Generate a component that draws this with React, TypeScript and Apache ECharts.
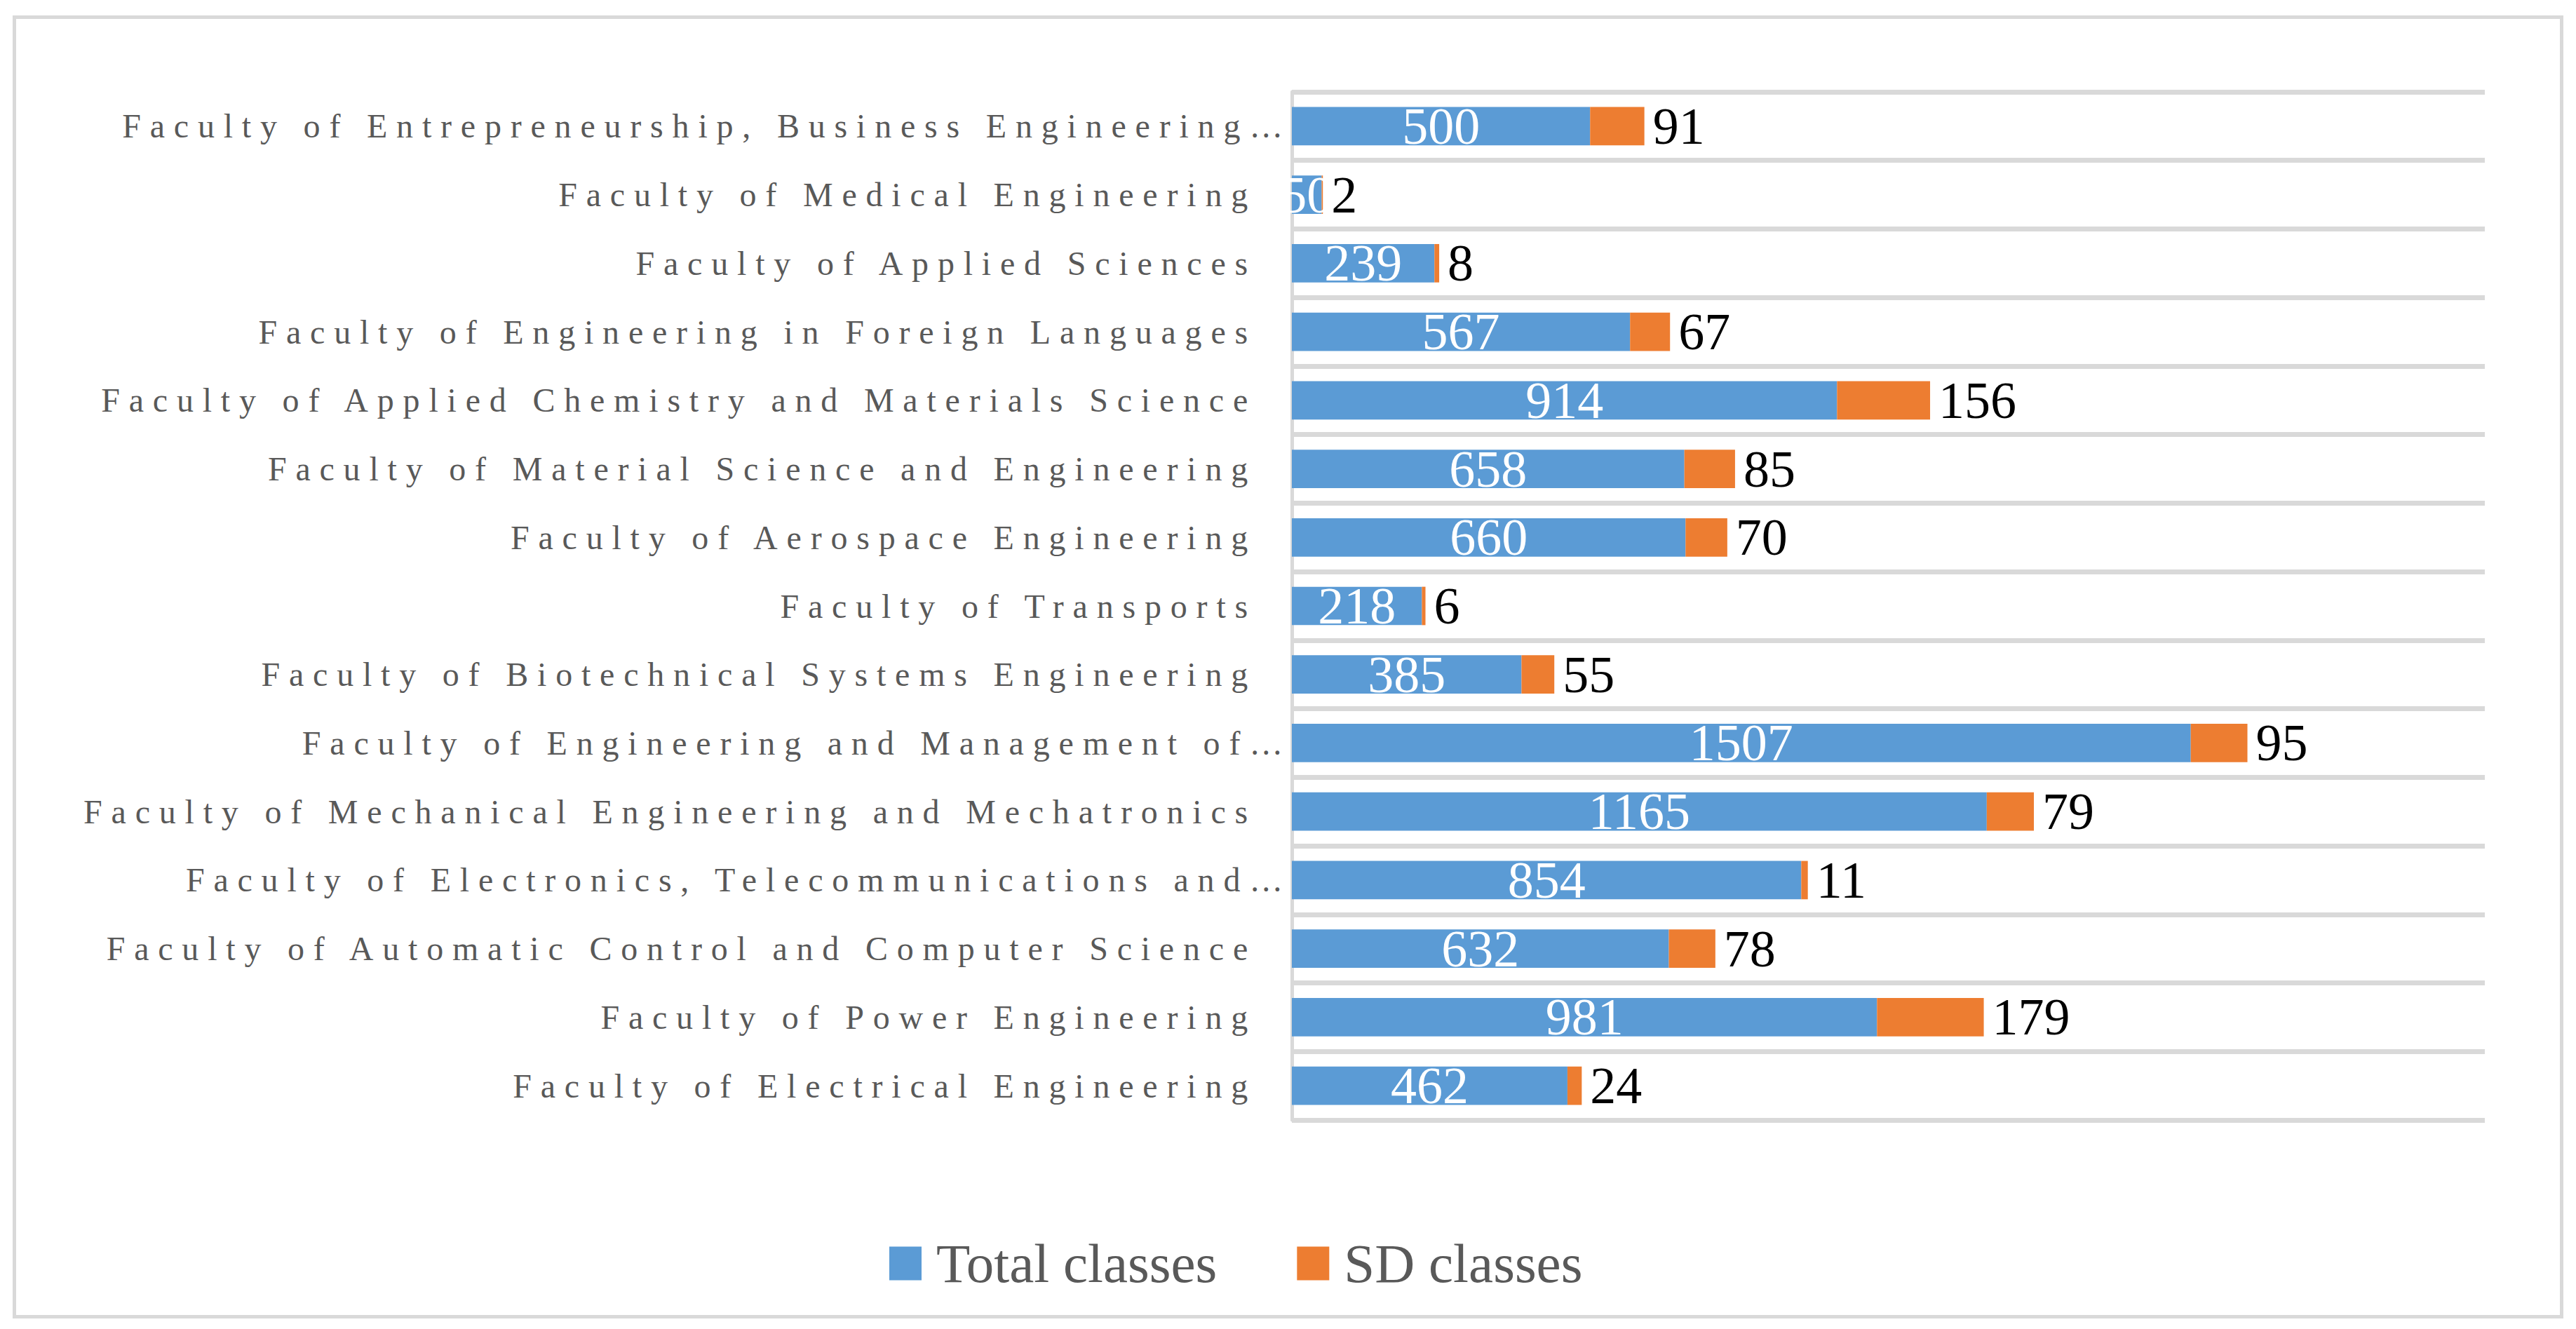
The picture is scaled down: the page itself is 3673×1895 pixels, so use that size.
import React, { useEffect, useRef } from "react";
import * as echarts from "echarts";

// Categories listed bottom-to-top (ECharts category y-axis starts at the bottom)
const categories = [
  "Faculty of Electrical Engineering",
  "Faculty of Power Engineering",
  "Faculty of Automatic Control and Computer Science",
  "Faculty of Electronics, Telecommunications and…",
  "Faculty of Mechanical Engineering and Mechatronics",
  "Faculty of Engineering and Management of…",
  "Faculty of Biotechnical Systems Engineering",
  "Faculty of Transports",
  "Faculty of Aerospace Engineering",
  "Faculty of Material Science and Engineering",
  "Faculty of Applied Chemistry and Materials Science",
  "Faculty of Engineering in Foreign Languages",
  "Faculty of Applied Sciences",
  "Faculty of Medical Engineering",
  "Faculty of Entrepreneurship, Business Engineering…",
];

const totalClasses = [462, 981, 632, 854, 1165, 1507, 385, 218, 660, 658, 914, 567, 239, 50, 500];
const sdClasses = [24, 179, 78, 11, 79, 95, 55, 6, 70, 85, 156, 67, 8, 2, 91];

const seriesNames = ["Total classes", "SD classes"];
const valueAxisMax = 2000;

const FONT = "'Liberation Serif', 'Times New Roman', serif";
const BLUE = "#5B9BD5";
const ORANGE = "#ED7D31";
const GRID_GRAY = "#D9D9D9";
const LABEL_GRAY = "#595959";

export default function App() {
  const ref = useRef<HTMLDivElement>(null);

  useEffect(() => {
    if (!ref.current) return;
    const chart = echarts.init(ref.current, null, { renderer: "svg" });
    chart.setOption({
      animation: false,
      backgroundColor: "#ffffff",
      graphic: [
        {
          type: "rect",
          left: 18,
          top: 22,
          shape: { x: 0, y: 0, width: 3632, height: 1853 },
          style: { fill: "none", stroke: GRID_GRAY, lineWidth: 5 },
          silent: true,
        },
      ],
      grid: {
        left: 1842,
        top: 131,
        right: 130,
        bottom: 298,
        containLabel: false,
      },
      legend: {
        data: seriesNames,
        left: 1263,
        top: 1757,
        itemWidth: 46,
        itemHeight: 48,
        itemGap: 114,
        icon: "rect",
        textStyle: {
          fontSize: 79,
          fontFamily: FONT,
          color: LABEL_GRAY,
          padding: [0, 0, 0, 16],
        },
      },
      xAxis: {
        type: "value",
        min: 0,
        max: valueAxisMax,
        axisLine: { show: false },
        axisTick: { show: false },
        axisLabel: { show: false },
        splitLine: { show: false },
      },
      yAxis: {
        type: "category",
        data: categories,
        axisLine: { show: true, lineStyle: { color: GRID_GRAY, width: 5 } },
        axisTick: { show: false },
        splitLine: { show: true, lineStyle: { color: GRID_GRAY, width: 7 } },
        axisLabel: {
          margin: 0,
          formatter: (v: string) => (v.endsWith("…") ? `{t|${v}}` : `{n|${v}}`),
          rich: {
            n: {
              fontSize: 48,
              fontFamily: FONT,
              color: LABEL_GRAY,
              padding: [0, 50, 0, 0],
            },
            t: {
              fontSize: 48,
              fontFamily: FONT,
              color: LABEL_GRAY,
            },
          },
        },
      },
      series: [
        {
          name: seriesNames[0],
          type: "bar",
          stack: "total",
          data: totalClasses,
          barCategoryGap: "44%",
          itemStyle: { color: BLUE },
          label: {
            show: true,
            position: "inside",
            color: "#ffffff",
            fontSize: 74,
            fontFamily: FONT,
          },
        },
        {
          name: seriesNames[1],
          type: "bar",
          stack: "total",
          data: sdClasses,
          barCategoryGap: "44%",
          itemStyle: { color: ORANGE },
          label: {
            show: true,
            position: "right",
            distance: 12,
            color: "#000000",
            fontSize: 74,
            fontFamily: FONT,
          },
        },
      ],
    });
    return () => chart.dispose();
  }, []);

  return (
    <>
      <style>{`.chartbox text[style*="48px"]{letter-spacing:12.8px;}`}</style>
      <div
        className="chartbox"
        ref={ref}
        style={{ position: "absolute", left: 0, top: 0, width: 3673, height: 1895 }}
      />
    </>
  );
}
